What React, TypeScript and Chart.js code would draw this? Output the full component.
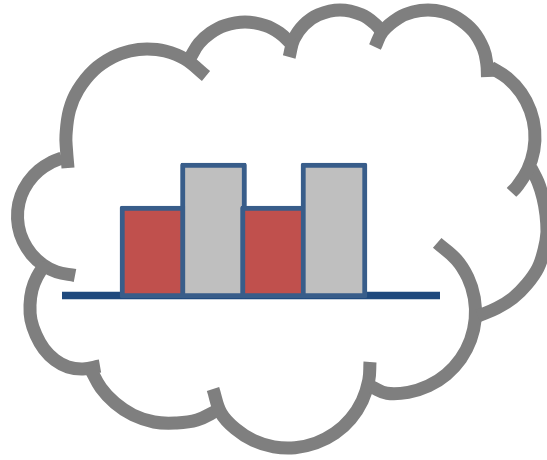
import React, { useEffect, useRef } from "react";
import { Chart, registerables } from "chart.js";

Chart.register(...registerables);

const barPositions = [153, 213.5, 273.5, 334];
const barHeights = [92, 135, 92, 135];
const barColors = ["#C0504D", "#BFBFBF", "#C0504D", "#BFBFBF"];
const axisLineX = [62, 440];
const axisLineValue = 2.5;

type P = [number, number];
const arcA: P[] = [[68, 168], [66.5, 150], [66, 135], [69.5, 110], [78, 90], [94, 70], [113, 57], [130, 51], [147, 49], [165, 51], [185, 59], [206, 76]];
const arcB: P[] = [[190.6, 57], [199, 43.4], [210.6, 32.9], [224.5, 25.6], [245, 22], [265.5, 25.6], [279.4, 32.9], [291, 43.4]];
const arcC: P[] = [[289.2, 57], [293.8, 39.4], [303.9, 24.9], [318.4, 14.8], [340, 10], [361.6, 14.8], [376.1, 24.9], [381, 31]];
const arcD: P[] = [[375, 47], [382.8, 31.1], [398.5, 17.9], [412.7, 12], [428, 10], [443.3, 12], [457.5, 17.9], [473.2, 31.1], [483.4, 48.8], [486.8, 63.9], [487.5, 77]];
const arcE: P[] = [[490.5, 67.2], [507.5, 78], [521.1, 92.8], [530.4, 110.7], [534.7, 130.3], [533.8, 150.4], [527.8, 169.5], [517, 186.5], [511.5, 192.4]];
const arcF: P[] = [[531, 168], [538, 182], [543, 198], [546, 215], [547, 232], [544, 250], [538, 268], [527, 284], [513, 298], [497, 308], [478, 316]];
const arcG: P[] = [[437.2, 242.9], [456.4, 259.6], [467.9, 277.6], [474.3, 297.8], [475.2, 319.1], [470.6, 339.9], [460.8, 358.7], [446.4, 374.4], [428.4, 385.9], [408.2, 392.3], [386.9, 393.2], [372, 387]];
const arcH: P[] = [[370, 362], [368.8, 380.2], [362.3, 400.7], [350.8, 418.7], [335, 433.2], [316, 443], [295.1, 447.7], [273.8, 446.8], [253.3, 440.3], [235.3, 428.8], [221, 413], [213, 389]];
const arcI: P[] = [[218, 410], [197, 420], [175, 423], [154, 422], [133, 415], [115, 403], [101, 388], [90, 368]];
const arcJ: P[] = [[100, 366], [83, 369], [68, 367], [55, 360], [44, 349], [36, 335], [31, 320], [30, 305], [32, 290], [37, 277], [46, 263]];
const arcK: P[] = [[75, 275.5], [56.6, 271.9], [42.9, 264.7], [31.4, 254.2], [23.1, 241.1], [18.4, 226.3], [17.7, 210.8], [21.1, 195.6], [28.3, 181.9], [38.8, 170.4], [51.9, 162.1], [62, 158]];
const cloudArcs = [arcA, arcB, arcC, arcD, arcE, arcF, arcG, arcH, arcI, arcJ, arcK];

export default function App() {
  const ref = useRef<HTMLCanvasElement | null>(null);
  useEffect(() => {
    if (!ref.current) return;
    const arcSets = cloudArcs.map((arc) => ({
      type: "line" as const,
      data: arc.map(([x, y]) => ({ x, y })),
      xAxisID: "x",
      yAxisID: "y",
      borderColor: "#7F7F7F",
      borderWidth: 13,
      borderCapStyle: "butt" as const,
      borderJoinStyle: "round" as const,
      pointRadius: 0,
      tension: 0.4,
      fill: false,
      order: 3,
    }));
    const chart = new Chart(ref.current, {
      type: "bar",
      data: {
        datasets: [
          ...arcSets,
          {
            type: "line" as const,
            data: axisLineX.map((x) => ({ x, y: axisLineValue })),
            xAxisID: "x",
            yAxisID: "yBars",
            borderColor: "#1F497D",
            borderWidth: 7.5,
            borderCapStyle: "butt" as const,
            pointRadius: 0,
            fill: false,
            order: 2,
          },
          {
            type: "bar" as const,
            data: barPositions.map((x, i) => ({ x, y: barHeights[i] })),
            xAxisID: "x",
            yAxisID: "yBars",
            backgroundColor: barColors,
            borderColor: "#385D8A",
            borderWidth: 5,
            borderSkipped: false,
            borderRadius: 2,
            barThickness: 66,
            order: 1,
          },
        ],
      } as any,
      options: {
        responsive: false,
        animation: false,
        layout: { padding: 0 },
        plugins: { legend: { display: false }, tooltip: { enabled: false } },
        scales: {
          x: { type: "linear", min: 0, max: 547, display: false, offset: false, grid: { offset: false } },
          y: { type: "linear", min: 0, max: 460, reverse: true, display: false },
          yBars: { type: "linear", min: -162, max: 298, display: false },
        },
      },
    });
    return () => chart.destroy();
  }, []);
  return (
    <div style={{ position: "fixed", left: 0, top: 0, width: 547, height: 460, background: "#fff" }}>
      <canvas ref={ref} width={547} height={460} style={{ display: "block" }} />
    </div>
  );
}
